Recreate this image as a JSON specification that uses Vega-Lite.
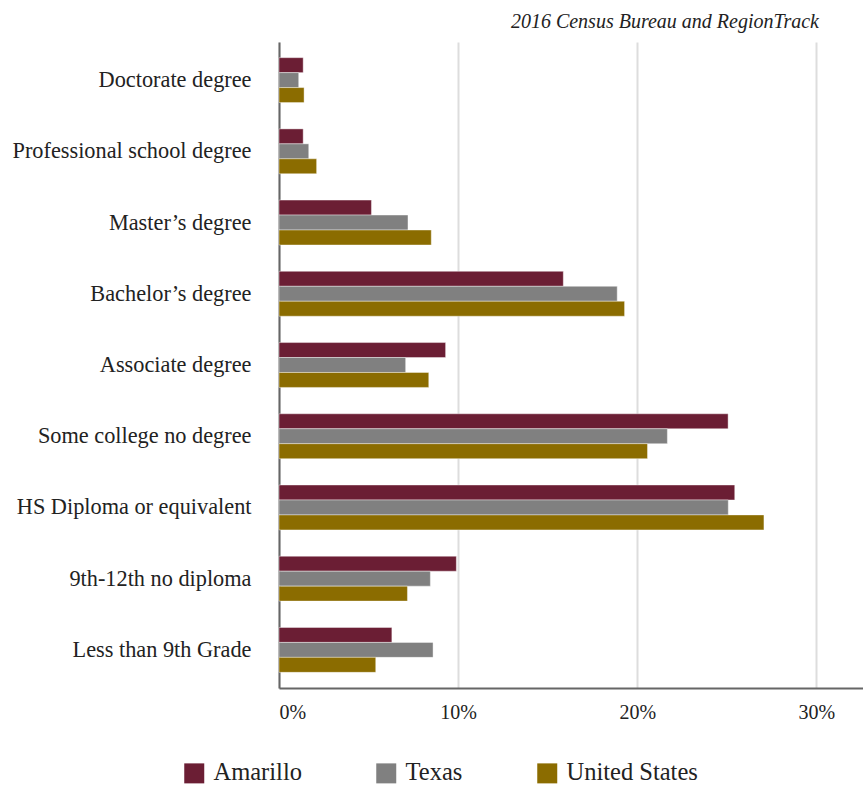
{
  "$schema": "https://vega.github.io/schema/vega-lite/v6.json",
  "autosize": {"type": "none"},
  "padding": {"left": 279, "top": 42, "right": 0, "bottom": 97},
  "width": 584,
  "height": 646,
  "background": "white",
  "title": {
    "text": "2016 Census Bureau and RegionTrack",
    "anchor": "end",
    "orient": "top",
    "font": "Liberation Serif",
    "fontStyle": "italic",
    "fontWeight": "normal",
    "fontSize": 20,
    "color": "#222222",
    "dx": -44,
    "offset": 10
  },
  "data": {
    "values": [
      {"level": "Doctorate degree", "series": "Amarillo", "pct": 1.35},
      {"level": "Doctorate degree", "series": "Texas", "pct": 1.1},
      {"level": "Doctorate degree", "series": "United States", "pct": 1.4},
      {"level": "Professional school degree", "series": "Amarillo", "pct": 1.35},
      {"level": "Professional school degree", "series": "Texas", "pct": 1.66},
      {"level": "Professional school degree", "series": "United States", "pct": 2.1},
      {"level": "Master’s degree", "series": "Amarillo", "pct": 5.16},
      {"level": "Master’s degree", "series": "Texas", "pct": 7.2},
      {"level": "Master’s degree", "series": "United States", "pct": 8.5},
      {"level": "Bachelor’s degree", "series": "Amarillo", "pct": 15.87},
      {"level": "Bachelor’s degree", "series": "Texas", "pct": 18.88},
      {"level": "Bachelor’s degree", "series": "United States", "pct": 19.29},
      {"level": "Associate degree", "series": "Amarillo", "pct": 9.3},
      {"level": "Associate degree", "series": "Texas", "pct": 7.07},
      {"level": "Associate degree", "series": "United States", "pct": 8.36},
      {"level": "Some college no degree", "series": "Amarillo", "pct": 25.07},
      {"level": "Some college no degree", "series": "Texas", "pct": 21.68},
      {"level": "Some college no degree", "series": "United States", "pct": 20.57},
      {"level": "HS Diploma or equivalent", "series": "Amarillo", "pct": 25.44},
      {"level": "HS Diploma or equivalent", "series": "Texas", "pct": 25.08},
      {"level": "HS Diploma or equivalent", "series": "United States", "pct": 27.07},
      {"level": "9th-12th no diploma", "series": "Amarillo", "pct": 9.9},
      {"level": "9th-12th no diploma", "series": "Texas", "pct": 8.45},
      {"level": "9th-12th no diploma", "series": "United States", "pct": 7.17},
      {"level": "Less than 9th Grade", "series": "Amarillo", "pct": 6.3},
      {"level": "Less than 9th Grade", "series": "Texas", "pct": 8.6},
      {"level": "Less than 9th Grade", "series": "United States", "pct": 5.4}
    ]
  },
  "mark": {"type": "bar", "stroke": "#ffffff", "strokeOpacity": 0.5, "strokeWidth": 0.8},
  "encoding": {
    "y": {
      "field": "level",
      "type": "nominal",
      "sort": null,
      "title": null,
      "scale": {"paddingInner": 0.37, "paddingOuter": 0.22},
      "axis": {
        "domain": true,
        "domainColor": "#666666",
        "domainWidth": 2,
        "ticks": false,
        "labelFont": "Liberation Serif",
        "labelFontSize": 22.3,
        "labelColor": "#222222",
        "labelPadding": 28,
        "labelLimit": 400
      }
    },
    "yOffset": {
      "field": "series",
      "type": "nominal",
      "sort": ["Amarillo", "Texas", "United States"],
      "scale": {"paddingInner": 0, "paddingOuter": 0}
    },
    "x": {
      "field": "pct",
      "type": "quantitative",
      "title": null,
      "scale": {"domain": [0, 32.6], "nice": false, "zero": true},
      "axis": {
        "values": [0, 10, 20, 30],
        "labelExpr": "datum.value + '%'",
        "domain": true,
        "domainColor": "#666666",
        "domainWidth": 2,
        "ticks": false,
        "grid": true,
        "gridColor": "#dddddd",
        "gridWidth": 2,
        "labelFont": "Liberation Serif",
        "labelFontSize": 20,
        "labelColor": "#222222",
        "labelPadding": 14
      }
    },
    "color": {
      "field": "series",
      "type": "nominal",
      "sort": ["Amarillo", "Texas", "United States"],
      "scale": {"domain": ["Amarillo", "Texas", "United States"], "range": ["#6b1e34", "#808080", "#8b6c00"]},
      "legend": {
        "title": null,
        "orient": "none",
        "direction": "horizontal",
        "legendX": -97,
        "legendY": 719,
        "padding": 0,
        "symbolType": "square",
        "symbolSize": 400,
        "symbolStrokeWidth": 0,
        "labelFont": "Liberation Serif",
        "labelFontSize": 24.5,
        "labelColor": "#222222",
        "labelOffset": 7,
        "columnPadding": 72
      }
    }
  },
  "config": {
    "font": "Liberation Serif",
    "view": {"stroke": null},
    "axis": {"gridCap": "butt"},
    "legend": {"labelFont": "Liberation Serif"}
  }
}
